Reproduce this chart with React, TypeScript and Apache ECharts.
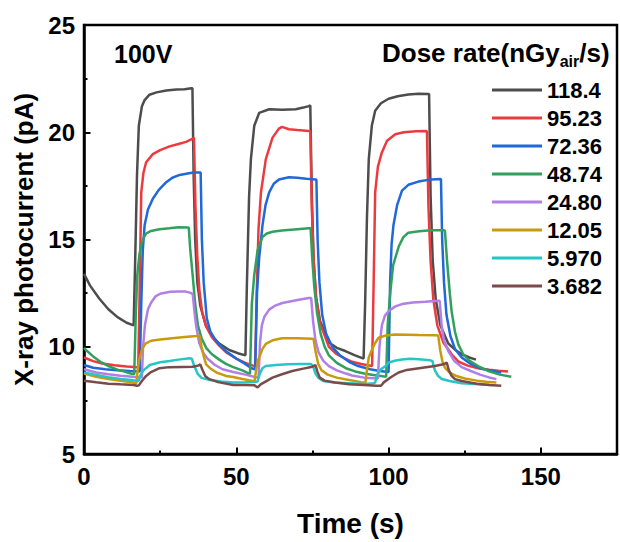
import React, { useEffect, useRef } from "react";
import * as echarts from "echarts";

const doseLabels = ["118.4", "95.23", "72.36", "48.74", "24.80", "12.05", "5.970", "3.682"];
const lineColors = ["#4d4d4d", "#ec3b3e", "#1f69d9", "#30a05c", "#b27fe6", "#c99b0c", "#26c6c6", "#7a4b4a"];
const xTicks = [0, 50, 100, 150];
const yTicks = [5, 10, 15, 20, 25];

const s118: number[][] = [
  [0, 13.4], [2, 12.85], [5, 12.25], [8, 11.75], [11, 11.38], [14, 11.12], [16.3, 11.0],
  [16.8, 14], [17.4, 18], [18, 20.3], [19, 21.2], [19.9, 21.5], [21.5, 21.75], [23.8, 21.86], [27, 21.95], [30.3, 21.99], [33, 22.0], [35.2, 22.05], [35.6, 22.05],
  [36.0, 18], [36.5, 15], [37.2, 13], [38.2, 11.9], [40, 11.0], [42, 10.5], [44.4, 10.15], [47.7, 9.85], [50.5, 9.7], [53.0, 9.6],
  [53.5, 13], [54.2, 17], [54.8, 18.75], [55.9, 20.3], [57.5, 20.9], [60.8, 21.07], [65, 21.05], [69.5, 21.07], [72, 21.15], [73.8, 21.22], [74.3, 21.25],
  [74.8, 17], [75.4, 14], [76.2, 12.3], [77.5, 11.2], [80.4, 10.2], [83, 9.95], [85.8, 9.8], [89, 9.6], [91.8, 9.45],
  [92.3, 12], [92.9, 16], [93.5, 18.75], [94.5, 20.3], [95.6, 21.0], [97.5, 21.35], [100, 21.56], [103, 21.68], [106.5, 21.76], [109.8, 21.8], [113, 21.78], [113.3, 21.78],
  [113.8, 17], [114.5, 14], [115.5, 12.2], [117, 11.0], [119.6, 10.15], [122, 9.85], [124, 9.65], [126.5, 9.5], [128.7, 9.4],
];
const s95: number[][] = [
  [0, 9.5], [3, 9.33], [6, 9.22], [10, 9.14], [14, 9.08], [17.8, 9.05],
  [18.2, 12], [18.6, 15.5], [18.8, 17.2], [19.5, 18.1], [20.4, 18.6], [22.6, 18.98], [25, 19.17], [28.1, 19.34], [31, 19.45], [33.5, 19.55], [35.7, 19.7], [36.1, 19.75],
  [36.6, 16.5], [37.2, 14.2], [37.9, 12.6], [38.8, 11.6], [40.1, 10.95], [42, 10.45], [44.4, 10.05], [46.6, 9.75], [49.9, 9.45], [53, 9.25], [55.5, 9.12], [56.2, 9.1],
  [56.7, 12.5], [57.3, 15.5], [58.1, 17.2], [59.7, 18.75], [61.9, 19.75], [64, 20.17], [65, 20.25], [67.3, 20.14], [70, 20.1], [73.8, 20.06], [74.3, 20.05],
  [74.8, 16.5], [75.4, 14], [76.2, 12.3], [77.5, 11.1], [80.4, 10.0], [83, 9.65], [85.8, 9.45], [88, 9.3], [91, 9.2], [94.6, 9.1],
  [95.1, 13], [95.6, 17.2], [96.5, 18.4], [97.8, 19.06], [99.5, 19.6], [102.2, 19.91], [105, 20.0], [109, 20.05], [112, 20.06], [112.6, 20.05],
  [113.1, 16.5], [113.8, 14], [114.7, 12.2], [116, 11.0], [118, 10.2], [120.7, 9.65], [123, 9.3], [126, 9.12], [129.4, 9.0], [133, 8.93], [136, 8.88], [139.2, 8.85],
];
const s72: number[][] = [
  [0, 9.15], [3, 9.02], [7, 8.95], [11, 8.9], [15, 8.87], [18.3, 8.85],
  [18.8, 12], [19.3, 14.5], [19.9, 15.66], [21, 16.4], [22.6, 16.9], [24.5, 17.3], [27, 17.67], [29, 17.88], [31.4, 18.01], [34, 18.08], [36, 18.12], [38.3, 18.12],
  [38.7, 15], [39.3, 13], [40.3, 11.34], [41.5, 10.7], [42.8, 10.4], [44.1, 10.15], [47, 9.75], [50, 9.45], [52.9, 9.2], [55, 9.0], [56.2, 8.95],
  [56.8, 12.5], [57.5, 14.12], [58.6, 15.66], [59.6, 16.6], [60.8, 17.2], [62.3, 17.6], [64, 17.8], [67.3, 17.9], [70, 17.88], [73, 17.83], [76, 17.8], [76.3, 17.8],
  [76.7, 15], [77.3, 13], [78.2, 11.5], [79.5, 10.6], [81.5, 10.0], [84, 9.6], [87, 9.3], [90, 9.1], [94, 8.95], [97, 8.87], [100, 8.82],
  [100.5, 13], [101, 14.8], [101.6, 15.66], [102.8, 16.6], [104.4, 17.28], [106.5, 17.55], [109.8, 17.7], [113, 17.78], [116.9, 17.82], [117.2, 17.82],
  [117.6, 15], [118.2, 13], [119, 11.5], [120.3, 10.5], [121.8, 9.9], [124, 9.5], [127, 9.2], [130, 9.0], [133.5, 8.88], [137, 8.8],
];
const s48: number[][] = [
  [0, 9.95], [1, 9.8], [3, 9.55], [5.4, 9.3], [8, 9.1], [11, 8.93], [13, 8.85], [15.3, 8.75], [16.5, 8.72],
  [17, 11.5], [17.5, 13.35], [18.2, 14.3], [18.8, 14.74], [19.5, 15.05], [20.4, 15.28], [22, 15.4], [24.8, 15.48], [28, 15.52], [31, 15.57], [34.1, 15.56], [34.4, 15.55],
  [34.9, 14.5], [35.7, 13.3], [36.5, 12.0], [37.4, 11.0], [38.6, 10.4], [40.1, 9.95], [42, 9.65], [44.4, 9.4], [46.6, 9.2], [49, 9.05], [52, 8.9], [54.2, 8.75], [54.5, 8.73],
  [55.1, 12], [55.9, 13.35], [57, 14.5], [58.6, 15.12], [60, 15.28], [61.9, 15.36], [65, 15.42], [70, 15.48], [73.8, 15.52], [74.4, 15.52],
  [74.9, 14.2], [75.6, 12.8], [76.5, 11.6], [77.7, 10.6], [79, 10.0], [80.4, 9.6], [83, 9.25], [86, 9.0], [89, 8.85], [92, 8.75], [95, 8.68], [99.2, 8.6],
  [99.7, 11], [100.6, 12.58], [101.5, 13.8], [103.3, 14.66], [104.8, 15.1], [106.5, 15.32], [110, 15.38], [114, 15.43], [118, 15.43], [118.5, 15.42],
  [119.2, 14], [120.1, 12.5], [120.7, 11.65], [121.8, 10.7], [122.9, 10.11], [124.5, 9.65], [126.5, 9.35], [129.4, 9.1], [133, 8.85], [136.5, 8.7], [140.3, 8.6],
];
const s24: number[][] = [
  [0, 8.95], [4, 8.8], [8, 8.72], [12, 8.65], [16, 8.6], [19, 8.58],
  [19.4, 10], [20, 11.0], [21, 11.75], [22, 12.05], [23.5, 12.35], [25, 12.47], [28.3, 12.56], [31, 12.58], [33.5, 12.57], [35.2, 12.5], [35.7, 12.45],
  [36.3, 11.6], [36.8, 11.0], [37.8, 10.2], [39, 9.75], [40.5, 9.45], [43, 9.15], [45.5, 8.95], [49, 8.82], [53, 8.7], [56.5, 8.58], [57.3, 8.56],
  [57.8, 10.2], [58.4, 11.0], [59.2, 11.4], [60.8, 11.73], [62.8, 11.92], [65.1, 12.04], [68, 12.12], [71, 12.2], [73.8, 12.27], [74.6, 12.27],
  [75.2, 11.2], [76, 10.3], [77, 9.75], [78.5, 9.35], [80.4, 9.1], [83, 8.9], [86, 8.75], [88, 8.66], [92, 8.56], [96.5, 8.52],
  [97, 10], [97.8, 11.0], [98.8, 11.45], [100, 11.65], [102, 11.87], [104.4, 11.99], [108, 12.06], [112, 12.1], [116.3, 12.15], [116.8, 12.13],
  [117.4, 11], [118.2, 10.3], [119.6, 9.8], [121.5, 9.35], [124, 9.05], [127, 8.87], [130, 8.7], [133, 8.57], [135.4, 8.49],
];
const s12: number[][] = [
  [0, 8.75], [4, 8.6], [8, 8.5], [12, 8.42], [16.3, 8.33], [17.2, 8.3],
  [17.6, 8.9], [18.2, 9.45], [19.1, 9.9], [20.2, 10.15], [22, 10.28], [25, 10.34], [29, 10.4], [33, 10.45], [37, 10.5], [37.9, 10.52],
  [38.6, 10.0], [39.4, 9.5], [40.1, 9.18], [41.4, 9.0], [43.5, 8.8], [46.6, 8.64], [49, 8.59], [52, 8.5], [55, 8.42], [56, 8.4],
  [56.5, 8.9], [57.1, 9.35], [58.6, 9.9], [59.7, 10.13], [61.9, 10.3], [65, 10.4], [70, 10.4], [74.9, 10.37], [75.4, 10.35],
  [76, 9.8], [76.9, 9.2], [78, 8.9], [80, 8.7], [83, 8.56], [87, 8.45], [91, 8.35], [92.4, 8.33],
  [92.9, 8.9], [93.5, 9.5], [94.5, 9.85], [95.5, 10.15], [96.7, 10.42], [99, 10.52], [102.2, 10.57], [106, 10.56], [110, 10.55], [115.2, 10.54], [116.3, 10.52],
  [117, 9.8], [117.7, 9.3], [118.5, 9.03], [120, 8.8], [122, 8.65], [125, 8.52], [129, 8.42], [132, 8.37], [135.4, 8.33],
];
const s5: number[][] = [
  [0, 8.8], [4, 8.68], [8, 8.58], [12, 8.5], [16.3, 8.44], [18, 8.42],
  [18.6, 8.7], [19.5, 8.9], [21.6, 9.15], [25, 9.28], [28.1, 9.34], [31, 9.4], [34.6, 9.46], [35.4, 9.44],
  [36.2, 9.1], [37.4, 8.72], [38.6, 8.55], [41.4, 8.45], [45, 8.38], [49, 8.33], [53, 8.34], [56, 8.36], [57, 8.38],
  [57.6, 8.7], [58.6, 9.0], [59.7, 9.1], [63, 9.15], [67, 9.18], [71, 9.2], [74.5, 9.2], [75.2, 9.1],
  [76, 8.75], [76.9, 8.56], [78.5, 8.4], [82, 8.33], [87, 8.3], [92, 8.26], [95, 8.3], [95.6, 8.33],
  [96.2, 8.7], [97.5, 8.95], [99, 9.1], [100, 9.26], [102, 9.35], [104.4, 9.41], [107, 9.44], [110, 9.42], [113.6, 9.37], [114.4, 9.33],
  [115.2, 8.9], [116.2, 8.65], [117.5, 8.5], [120, 8.4], [124, 8.3], [128.3, 8.26], [131, 8.24], [134, 8.22],
];
const s3: number[][] = [
  [0, 8.41], [4, 8.34], [8, 8.28], [12, 8.25], [16.3, 8.22], [17.4, 8.18], [18, 8.2],
  [19, 8.4], [20.4, 8.64], [22, 8.82], [24.8, 9.0], [28, 9.05], [32, 9.06], [35.7, 9.07], [37.5, 9.12], [38.2, 9.18],
  [38.8, 8.95], [39.8, 8.64], [41, 8.5], [44, 8.35], [49, 8.22], [53, 8.22], [56, 8.2], [57, 8.1],
  [58, 8.25], [61.9, 8.56], [65, 8.72], [68.4, 8.87], [72, 8.98], [75, 9.07], [76, 9.15],
  [76.6, 8.85], [77.4, 8.56], [79, 8.42], [82.5, 8.33], [87, 8.25], [92, 8.22], [96, 8.18], [97.5, 8.18],
  [98.5, 8.35], [101, 8.6], [103.3, 8.8], [106, 8.92], [110, 9.0], [115.2, 9.1], [118, 9.18], [119.1, 9.26],
  [119.8, 8.9], [120.7, 8.64], [121.8, 8.49], [124, 8.4], [129, 8.28], [133, 8.22], [137, 8.18],
];
const seriesData = [s118, s95, s72, s48, s24, s12, s5, s3];

const FONT = "'Liberation Sans', Arial, Helvetica, sans-serif";

export default function App() {
  const ref = useRef<HTMLDivElement>(null);
  useEffect(() => {
    if (!ref.current) return;
    const chart = echarts.init(ref.current, null, { renderer: "svg" });
    const axisText = { color: "#000", fontWeight: "bold" as const, fontFamily: FONT };
    chart.setOption({
      animation: false,
      backgroundColor: "#fff",
      textStyle: { fontFamily: FONT },
      grid: { left: 84, right: 2, top: 25, bottom: 85, show: true, borderColor: "#000", borderWidth: 2.5 },
      legend: {
        data: doseLabels,
        orient: "vertical",
        left: 492,
        top: 79,
        padding: 0,
        icon: "rect",
        itemWidth: 50,
        itemHeight: 3,
        itemGap: 6,
        textStyle: { ...axisText, fontSize: 22, lineHeight: 22 },
      },
      graphic: [
        {
          type: "text",
          left: 114,
          top: 41,
          style: { text: "100V", fill: "#000", font: `bold 25px ${FONT}` },
        },
        {
          type: "text",
          left: 382,
          top: 40,
          style: {
            text: "{a|Dose rate(nGy}{b|air}{a|/s)}",
            rich: {
              a: { fontSize: 26, fontWeight: "bold", fontFamily: FONT, fill: "#000", lineHeight: 32, verticalAlign: "middle" },
              b: { fontSize: 16, fontWeight: "bold", fontFamily: FONT, fill: "#000", lineHeight: 12, verticalAlign: "bottom" },
            },
          },
        },
      ],
      xAxis: [
        {
          type: "value",
          min: 0,
          max: 175,
          interval: 25,
          name: "Time (s)",
          nameLocation: "middle",
          nameGap: 55,
          nameTextStyle: { ...axisText, fontSize: 28 },
          axisLine: { lineStyle: { color: "#000", width: 2.5 } },
          axisTick: { inside: true, length: 3.5, lineStyle: { color: "#000", width: 2 } },
          splitLine: { show: false },
          axisLabel: {
            ...axisText,
            fontSize: 24,
            margin: 10,
            formatter: (v: number) => (xTicks.includes(v) ? String(v) : ""),
          },
        },
        {
          type: "value",
          min: 0,
          max: 175,
          interval: 50,
          position: "bottom",
          axisLine: { show: false },
          axisTick: { inside: true, length: 6.5, lineStyle: { color: "#000", width: 2 } },
          axisLabel: { show: false },
          splitLine: { show: false },
        },
      ],
      yAxis: {
        type: "value",
        min: 5,
        max: 25,
        interval: 5,
        name: "X-ray photocurrent (pA)",
        nameLocation: "middle",
        nameGap: 46,
        nameTextStyle: { ...axisText, fontSize: 26 },
        axisLine: { lineStyle: { color: "#000", width: 2.5 } },
        axisTick: { inside: true, length: 6.5, lineStyle: { color: "#000", width: 2 } },
        minorTick: { show: true, splitNumber: 2, length: 3.5, lineStyle: { color: "#000", width: 2 } },
        splitLine: { show: false },
        minorSplitLine: { show: false },
        axisLabel: {
          ...axisText,
          fontSize: 24,
          margin: 9,
          formatter: (v: number) => (yTicks.includes(v) ? String(v) : ""),
        },
      },
      series: seriesData.map((d, i) => ({
        name: doseLabels[i],
        type: "line",
        xAxisIndex: 0,
        data: d,
        showSymbol: false,
        symbol: "none",
        color: lineColors[i],
        lineStyle: { color: lineColors[i], width: 2.5 },
        emphasis: { disabled: true },
      })),
    });
    return () => chart.dispose();
  }, []);
  return <div ref={ref} style={{ position: "absolute", left: 0, top: 0, width: 620, height: 542 }} />;
}
